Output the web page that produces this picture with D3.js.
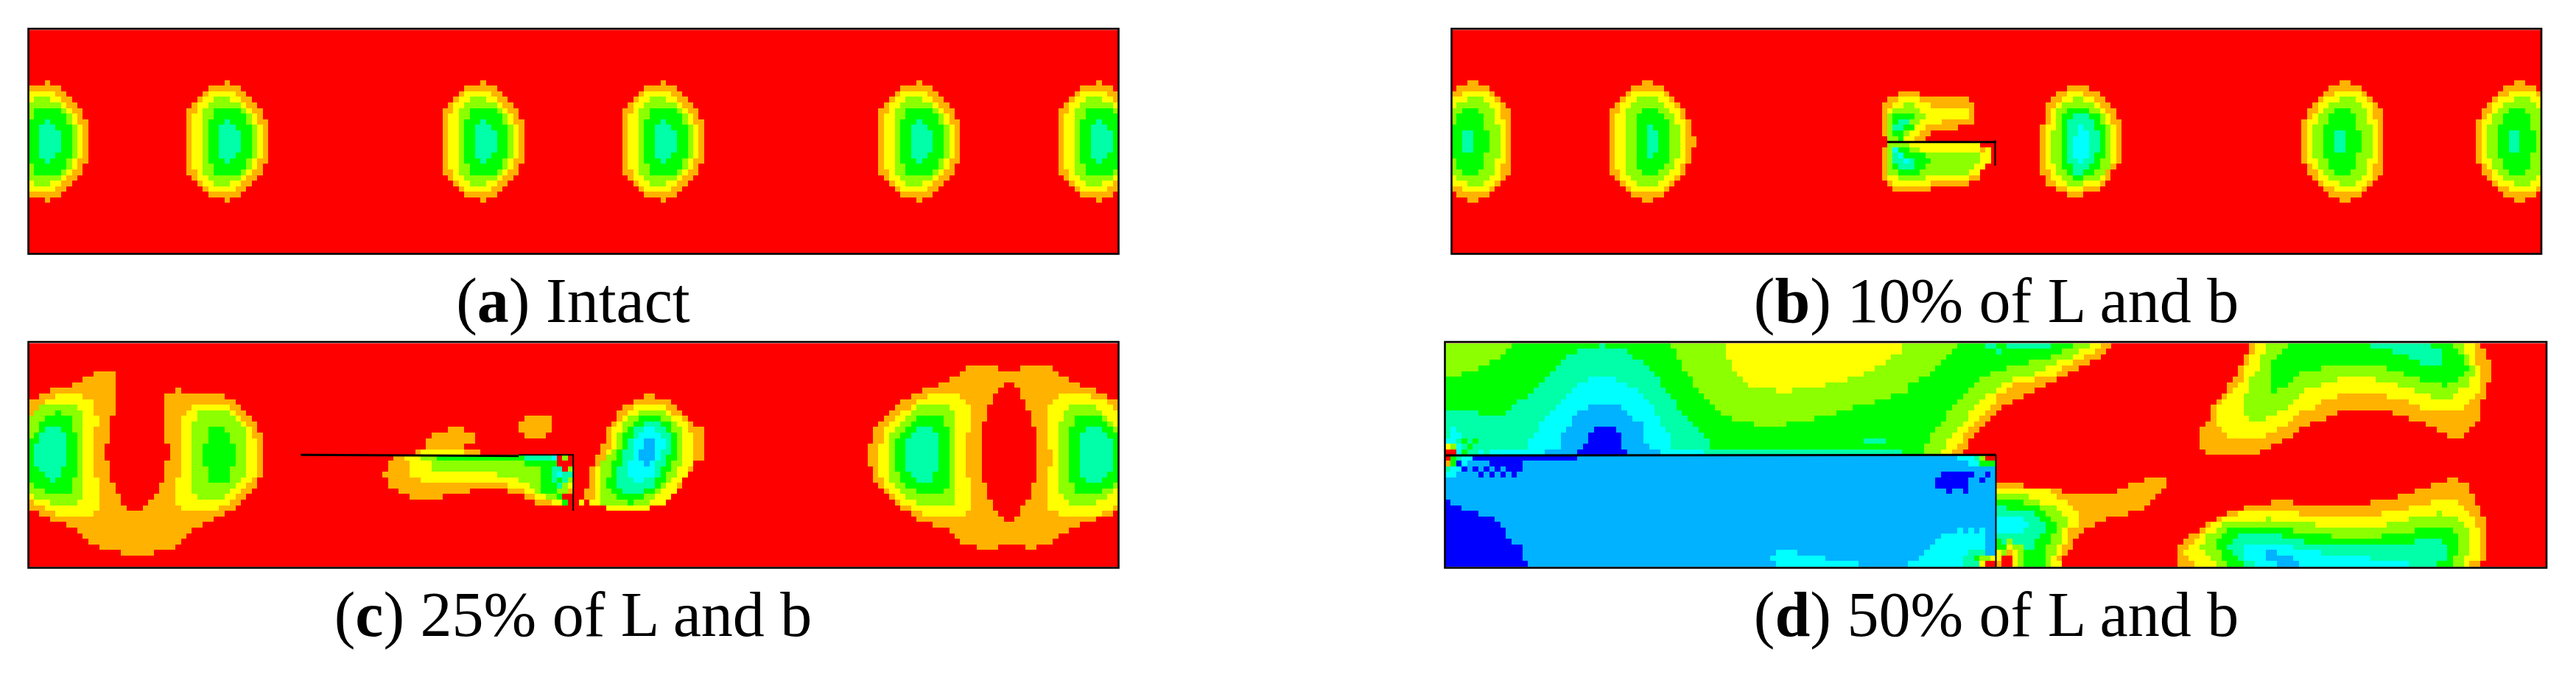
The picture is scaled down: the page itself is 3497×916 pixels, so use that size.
<!DOCTYPE html>
<html>
<head>
<meta charset="utf-8">
<script src="https://cdn.jsdelivr.net/npm/d3@7"></script>
<style>
  html, body { margin: 0; background: #fff; }
  svg { display: block; }
</style>
</head>
<body>
<svg id="chart" width="3497" height="916"></svg>
<script>
// contour levels, outer (red) to inner (blue)
const levelColors = ["#ff0000", "#ffb200", "#ffff00", "#8cff00", "#00ff00", "#00ffa8", "#00ffff", "#00b2ff", "#0000ff"];
const RED = 0, ORANGE = 1, YELLOW = 2, LIME = 3, GREEN = 4, TEAL = 5, CYAN = 6, SKY = 7, BLUE = 8;

const captionLetters = ["a", "b", "c", "d"];
const captionTexts = ["Intact", "10% of L and b", "25% of L and b", "50% of L and b"];

// a region is [level, first row, [from, to, from, to ...]], one from/to pair per row, in element columns
// the eyes are read from row 9 down to the mid height row, relative to the tip column
const eyeIntact = [
  [ORANGE, 9, [0,1,-3,3,-4,4,-5,5,-6,6,-7,7,-7,7,-7,8,-7,8,-7,8,-7,8]],
  [YELLOW, 11, [-3,2,-4,3,-5,4,-5,5,-6,6,-6,6,-6,7,-6,7,-6,7]],
  [LIME, 12, [-2,1,-3,3,-4,4,-4,5,-4,5,-4,6,-4,6,-4,6]],
  [GREEN, 14, [-2,3,-2,4,-3,4,-3,5,-3,5,-3,5]],
  [TEAL, 16, [0,1,-1,2,-1,3,-1,3]]
];
const eyeIntactTips = [3, 36, 83, 116, 163, 196];

const eyeCrackNear = [
  [ORANGE, 9, [0,2,-2,4,-3,5,-4,6,-5,7,-6,8,-6,8,-6,9,-6,9,-6,9,-6,10]],
  [YELLOW, 11, [-2,4,-3,5,-4,6,-4,7,-5,7,-5,8,-5,8,-5,8,-5,8]],
  [LIME, 12, [-1,3,-2,4,-3,5,-3,6,-3,6,-3,7,-3,7,-3,7]],
  [GREEN, 14, [0,3,-1,4,-1,5,-1,5,-1,5,-1,5]],
  [TEAL, 17, [1,2,1,3,1,3]]
];
const eyeCrackNearTips = [35];

const eyeCrackFar = [
  [ORANGE, 9, [0,2,-2,4,-3,5,-4,6,-5,7,-6,8,-6,8,-7,8,-7,8,-7,8,-7,8]],
  [YELLOW, 11, [-1,4,-3,5,-4,6,-4,6,-5,6,-6,7,-6,7,-6,7,-6,7]],
  [LIME, 12, [0,3,-2,4,-3,5,-4,5,-4,5,-5,6,-5,6,-5,6]],
  [GREEN, 14, [-1,2,-2,3,-2,3,-3,3,-3,4,-3,4]],
  [TEAL, 18, [-1,1,-1,1]]
];
const eyeCrackFarTips = [3, 163, 195];

const regionsB = [
  // eye right of the crack
  [ORANGE, 10, [113,117,111,119,110,120,109,121,109,122,109,122,109,123,108,123,108,123,108,123,108,123,108,123,108,123,108,123,108,122,108,121,109,121,109,120,111,119,113,116]],
  [YELLOW, 11, [113,116,112,118,111,119,110,120,110,121,110,121,109,122,109,122,109,122,109,122,109,122,109,122,109,122,109,121,110,120,110,120,111,119,113,116]],
  [LIME, 12, [114,116,112,118,111,119,111,120,111,120,111,121,110,121,110,121,110,121,110,121,110,121,110,121,111,121,111,120,112,119,113,116]],
  [GREEN, 14, [113,117,112,119,112,119,112,120,112,120,112,120,112,120,112,120,112,120,112,119,112,119,113,118,114,116]],
  [TEAL, 15, [114,117,113,118,113,118,113,119,113,119,113,119,113,119,113,118,113,118,114,117,114,116]],
  [CYAN, 17, [115,116,115,117,114,117,114,117,114,117,114,117,115,116]],
  // crack, upper lip
  [ORANGE, 11, [82,86,80,95,79,96,79,96,79,96,79,96,79,93,79,88,80,87]],
  [YELLOW, 12, [82,86,81,88,80,95,80,95,80,90,80,87,80,86,80,85]],
  [LIME, 13, [83,85,81,86,80,87,80,86,80,85,80,84,80,83]],
  [GREEN, 15, [81,85,81,84,81,85,81,83,82,83]],
  [TEAL, 16, [82,84,81,83]],
  // crack, lower lip
  [ORANGE, 21, [79,99,79,99,79,99,79,98,79,97,79,97,80,95,81,88]],
  [YELLOW, 20, [80,97,80,99,80,99,80,99,80,98,80,97,80,95,81,88]],
  [ORANGE, 21, [97,98]],
  [LIME, 20, [80,84,80,86,80,97,80,97,80,96,80,95,82,87]],
  [GREEN, 21, [81,84,81,87,81,88,81,87,82,86]],
  [TEAL, 21, [81,82,81,83,81,85,82,85]],
  [CYAN, 21, [81,82,82,83,83,84]]
];

const regionsC = [
  // U shape on the left
  [ORANGE, 5, [12,16,10,16,8,16,4,16,2,16,0,16,0,16,0,16,0,15,0,15,0,15,0,15,0,15,0,14,0,14,0,14,0,15,0,15,0,15,0,15,0,16,0,16,0,17,0,17,0,18]],
  [ORANGE, 8, [27,28,25,36,25,38,25,39,25,40,25,41,25,42,25,42,25,43,25,43,26,43,26,43,26,43,25,43,25,43,25,43,25,42,24,42,24,41,23,40,22,39,21,38]],
  [ORANGE, 30, [2,36,4,34,7,32,9,30,10,29,11,28,13,27,17,23]],
  [YELLOW, 9, [5,10,3,12,3,12,1,12,0,13,0,13,0,12,0,12,0,12,0,12,0,12,0,12,0,12,0,12,0,12,0,13,0,13,0,13,0,13,1,13,3,13,5,12]],
  [LIME, 11, [2,9,1,10,0,10,0,10,0,10,0,10,0,10,0,10,0,10,0,10,0,10,0,10,0,10,0,10,0,10,0,10,1,10,4,9]],
  [GREEN, 12, [5,6,3,8,2,8,2,8,1,9,0,9,0,9,0,9,0,9,0,9,0,9,0,9,0,8,1,8,3,8]],
  [TEAL, 15, [3,6,2,7,2,7,1,7,1,7,1,7,1,7,2,6,3,6,4,5]],
  [YELLOW, 11, [30,37,29,38,28,39,28,40,28,41,28,41,28,42,28,42,28,42,28,42,28,42,28,42,28,42,27,41,27,40,27,39,27,38,27,37,28,35]],
  [LIME, 12, [31,37,31,38,30,39,30,40,30,40,30,40,30,40,30,40,30,40,30,40,30,40,30,40,30,39,30,38,30,37,31,36]],
  [GREEN, 15, [33,36,33,37,33,37,32,38,32,38,32,38,32,38,33,37,33,37,33,37]],
  // wake of the crack
  [ORANGE, 15, [77,80,74,82,73,82,73,80,71,83]],
  [YELLOW, 19, [72,80]],
  [ORANGE, 13, [91,96,90,96,90,96,91,95]],
  [ORANGE, 20, [67,72,66,72,66,72,65,72,66,73,66,88,68,81,70,76]],
  [ORANGE, 26, [88,91,91,93,93,96]],
  [YELLOW, 20, [69,75,70,74,70,74,70,86,72,90,88,92,91,93,93,95,96,98]],
  [LIME, 20, [72,75,74,91,74,94,86,94,90,94,92,94,93,94,95,97]],
  [GREEN, 20, [75,91,91,97,94,98,94,100,94,98,94,97,94,97,97,98,98,99]],
  [TEAL, 20, [91,96]],
  [CYAN, 20, [96,97]],
  [LIME, 20, [98,99]],
  [TEAL, 22, [96,98,96,100,96,97,97,98]],
  [CYAN, 23, [97,98]],
  [TEAL, 24, [98,99]],
  [LIME, 22, [99,100]],
  [LIME, 24, [99,100]],
  [LIME, 25, [98,99]],
  [YELLOW, 25, [99,100]],
  [LIME, 26, [97,99]],
  [ORANGE, 26, [99,100]],
  [YELLOW, 28, [101,102]],
  // tilted eye right of the crack
  [ORANGE, 9, [113,115,111,118,109,119,108,120,108,121,107,122,106,124,106,124,106,124,105,124,105,124,104,124,104,122,103,122,103,121,103,120,103,120,102,119,102,118,105,116,108,114]],
  [YELLOW, 11, [111,117,110,118,109,120,108,121,107,121,107,122,107,122,107,122,106,122,106,122,105,122,104,121,104,121,104,120,104,119,104,119,104,118,103,117,106,114]],
  [LIME, 12, [112,117,110,118,109,119,109,120,108,120,108,120,108,120,107,120,106,120,105,120,105,119,105,119,105,118,105,117,105,116,105,115,105,114]],
  [GREEN, 13, [112,116,111,118,110,118,109,119,109,119,109,119,108,119,108,119,107,118,107,118,107,117,106,117,106,116,107,115,108,113,110,111]],
  [TEAL, 14, [113,116,111,117,111,118,110,118,110,118,109,118,109,117,109,117,108,116,108,116,108,115,108,115,109,113]],
  [CYAN, 15, [113,115,112,116,111,117,111,117,111,116,111,116,110,115,110,115,110,115,111,113]],
  [SKY, 17, [113,115,113,115,112,115,112,115,113,114]],
  // double eye on the right
  [ORANGE, 4, [172,178]],
  [ORANGE, 4, [182,188]],
  [ORANGE, 5, [171,189,169,191,167,193,164,196,162,198,160,200,159,200,158,200,157,200,156,200,155,200,155,200,155,200,154,200,154,200,154,200,154,200,155,200,155,200,155,200,156,200,157,200,158,200,159,200,160,200,162,199,163,196,166,193,169,191,170,189,171,188]],
  [ORANGE, 36, [174,178]],
  [ORANGE, 36, [183,185]],
  [RED, 7, [179,181,178,182,177,182,177,183,176,183,176,184,176,184,175,184,175,185,175,185,175,185,175,185,175,185,175,185,175,185,175,185,175,185,175,185,176,184,176,184,176,184,177,183,177,182,178,182,179,181]],
  [YELLOW, 9, [165,171,163,172,162,173,160,173,159,173,158,173,157,173,157,172,157,172,156,172,156,172,156,172,156,172,156,172,156,172,157,173,157,173,158,173,159,173,160,173,162,173,164,172]],
  [LIME, 11, [163,169,162,170,161,170,160,170,159,170,158,170,158,170,158,170,158,170,158,170,158,170,158,170,158,170,158,170,159,170,160,170,161,170,163,170]],
  [GREEN, 13, [163,168,162,168,161,169,160,169,159,169,159,169,159,169,159,169,159,169,159,169,160,169,160,169,161,169,163,168]],
  [TEAL, 15, [163,166,162,167,161,167,161,167,161,167,161,167,161,167,161,167,162,166,163,166]],
  [YELLOW, 9, [189,195,188,198,187,199,187,200,187,200,187,200,187,200,187,200,187,200,187,200,188,200,188,200,188,200,187,200,187,200,187,200,187,200,187,200,187,200,187,200,187,199,189,197]],
  [LIME, 11, [191,196,190,197,190,198,189,199,189,200,189,200,189,200,189,200,189,200,189,200,189,200,189,200,189,200,189,200,189,200,189,199,190,198,191,196]],
  [GREEN, 13, [192,197,192,198,191,199,191,200,191,200,191,200,191,200,191,200,191,200,191,200,191,200,191,200,192,199,192,197]],
  [TEAL, 15, [194,197,193,198,193,199,193,199,193,199,193,199,193,199,193,199,193,198,194,197]]
];

const regionsD = [
  // diagonal front, top left half
  [ORANGE, 0, [0,121,0,120,0,119,0,117,0,115,0,113,0,111,0,109,0,107,0,105,0,103,0,101,0,100,0,99,0,98,0,97,0,96,0,95,0,95,0,94]],
  [YELLOW, 0, [0,119,0,118,0,116,0,114,0,112,0,111,0,107,0,103,0,102,0,100,0,100,0,99,0,98,0,97,0,96,0,95,0,94,0,94,0,93,0,92]],
  [LIME, 0, [0,117,0,115,0,114,0,111,0,109,0,107,0,103,0,101,0,100,0,98,0,97,0,96,0,95,0,95,0,94,0,93,0,92,0,91,0,91,0,90]],
  [GREEN, 0, [0,114,0,112,0,110,0,106,0,102,0,99,0,97,0,96,0,95,0,94,0,93,0,92,0,91,0,91,0,90,0,89,0,88,0,88,0,87,0,87]],
  [LIME, 0, [0,12,0,11,0,10,0,8,0,6,0,3]],
  [LIME, 0, [41,93,42,92,42,91,43,90,43,89,44,88,45,86,45,84,46,84,47,81,48,78,49,74,50,71,52,67,56,62]],
  [YELLOW, 0, [51,83,51,83,51,81,52,80,52,78,53,76,54,73,55,69,60,63]],
  [TEAL, 0, [28,29,24,33,22,34,21,36,20,37,19,38,18,39,17,39,16,40,15,41,13,42,12,42,11,43,0,44,0,45,0,46,0,47,0,48,0,48,0,83]],
  [TEAL, 12, [0,6]],
  [TEAL, 17, [76,80]],
  [TEAL, 0, [98,100,100,101]],
  [TEAL, 0, [102,110]],
  [CYAN, 6, [26,31,24,33,23,35,22,36,21,37,20,38,19,38,18,39,17,39,17,40,16,41,15,41,15,41,8,47]],
  [SKY, 11, [26,32,24,33,23,34,23,36,22,36,21,36,21,36,21,37,18,39]],
  [BLUE, 15, [27,31,26,32,26,32,25,32,24,33]],
  // left end of the top half
  [CYAN, 15, [1,2,1,3,0,2,2,3,2,3]],
  [GREEN, 17, [3,4]],
  [GREEN, 17, [5,6]],
  [YELLOW, 18, [0,1]],
  [LIME, 18, [1,2]],
  [GREEN, 18, [4,5]],
  [RED, 19, [0,2]],
  [GREEN, 19, [3,4]],
  [CYAN, 19, [6,7]],
  // right part under the front
  [ORANGE, 25, [100,105,100,112,100,129,100,128,100,127,100,124,100,120,100,118,100,116,100,115,100,114,100,114,100,113,100,112,100,112]],
  [ORANGE, 24, [127,131,124,131,122,130]],
  [YELLOW, 26, [100,110,100,111,100,113,100,114,100,115,100,115,100,115,100,113,100,113,100,113,100,112,100,112,100,111,100,112]],
  [LIME, 27, [100,106,100,108,100,111,100,112,100,113,100,113,100,112,100,112,100,112,100,111,100,111,100,110,100,110]],
  [GREEN, 28, [100,105,100,108,100,109,100,110,100,111,100,111,100,110,100,110,100,109,100,109,100,109,100,109]],
  [TEAL, 29, [100,102,100,107,100,108,100,109,100,109,100,108,100,107,100,107]],
  [CYAN, 31, [100,105,100,106,100,105]],
  [GREEN, 35, [100,101]],
  [LIME, 35, [102,103]],
  [GREEN, 36, [100,102]],
  [YELLOW, 36, [102,103]],
  [LIME, 36, [103,105,104,105,104,105,104,105]],
  [YELLOW, 37, [100,101,100,101,103,104]],
  [LIME, 37, [101,102]],
  [ORANGE, 37, [102,103]],
  [RED, 38, [101,103,101,103]],
  [YELLOW, 37, [103,104,103,104,103,104]],
  [ORANGE, 39, [100,101]],
  // lower right blob
  [ORANGE, 24, [182,184,179,186,176,186,173,187]],
  [ORANGE, 28, [150,154]],
  [ORANGE, 28, [168,187,145,188,142,188,140,189,138,189,137,189,135,189,134,189,133,189,133,189,133,189,133,188]],
  [YELLOW, 28, [179,184,175,185]],
  [YELLOW, 30, [144,155]],
  [YELLOW, 30, [170,186,141,187,139,187,138,188,137,188,136,188,135,188,134,188,135,188,136,186]],
  [LIME, 30, [180,181]],
  [LIME, 31, [149,150]],
  [LIME, 31, [175,184,171,185]],
  [LIME, 32, [141,158]],
  [LIME, 33, [140,186,138,186,138,186,137,186,138,186,139,185,140,185]],
  [GREEN, 33, [142,154]],
  [GREEN, 33, [176,183]],
  [GREEN, 34, [141,161]],
  [GREEN, 34, [170,184,140,184,140,184,141,184,141,183,142,183]],
  [TEAL, 34, [144,152,143,156]],
  [TEAL, 35, [176,181,142,182,143,182,144,182,145,180]],
  [CYAN, 36, [145,154,145,159,145,168,147,175]],
  [SKY, 37, [149,151,149,154,151,155]],
  // upper right blob
  [ORANGE, 0, [146,188,146,189,145,189,145,190,144,190,144,190,143,190,142,189,142,189,141,189,140,188,139,188,139,162,139,160,138,157,137,155,137,154,137,152,137,150,138,148]],
  [ORANGE, 12, [172,188,175,188,178,187,180,186,182,185]],
  [YELLOW, 0, [147,187,147,187,146,187,146,187,145,188,145,188,145,188,144,188,143,188,142,162,141,159,140,158,140,155,140,154,140,153,141,151,142,149]],
  [YELLOW, 9, [171,187,175,186,177,185]],
  [LIME, 0, [149,185,149,185,148,186,148,186,148,187,147,187,146,162,146,159,146,156,145,155,145,154,145,153,145,151,146,149]],
  [LIME, 6, [169,186,173,186,176,184,179,183]],
  [GREEN, 0, [153,183,152,184,151,185,150,185,150,159,150,155,150,154,150,153,150,151]],
  [GREEN, 4, [171,186,174,185,177,184,181,182]],
  [TEAL, 0, [168,179,172,181,175,181,177,181]],
  // lower left block under the crack
  [SKY, 20, [0,100,0,100,0,100,0,100,0,100,0,100,0,100,0,100,0,100,0,100,0,100,0,100,0,100,0,100,0,100,0,100,0,100,0,100,0,100,0,100]],
  [BLUE, 20, [5,24,8,14,11,14]],
  [BLUE, 21, [2,3,3,4]],
  [BLUE, 22, [5,6,6,7]],
  [BLUE, 22, [7,8,8,9]],
  [BLUE, 22, [9,10,10,11]],
  [BLUE, 23, [12,13]],
  [RED, 20, [0,1]],
  [GREEN, 20, [1,2,1,2]],
  [TEAL, 20, [2,3]],
  [CYAN, 20, [3,5,3,4,1,3,0,2]],
  [ORANGE, 21, [0,1]],
  [TEAL, 22, [0,1]],
  [BLUE, 23, [90,96,89,95,89,95]],
  [BLUE, 26, [91,92]],
  [BLUE, 26, [94,95]],
  [BLUE, 23, [98,99]],
  [BLUE, 24, [97,98]],
  [CYAN, 20, [93,96,95,97]],
  [TEAL, 20, [96,97]],
  [LIME, 20, [97,98]],
  [RED, 20, [98,100]],
  [GREEN, 21, [97,100]],
  [BLUE, 28, [0,1,0,3,0,6,0,9,0,10,0,11,0,11,0,12,0,14,0,14,0,14,0,15]],
  [CYAN, 37, [60,64,59,69,60,75]],
  [CYAN, 33, [93,94]],
  [CYAN, 33, [95,96]],
  [CYAN, 33, [97,98]],
  [CYAN, 34, [90,98,89,98,88,98,87,95,86,94,84,94]],
  [TEAL, 37, [95,98,94,96,94,97]],
  [SKY, 37, [98,99]],
  [GREEN, 38, [96,97]],
  [LIME, 38, [97,99]],
  [YELLOW, 38, [99,100]],
  [YELLOW, 39, [97,98]],
  [RED, 39, [98,100]]
];

// crack outlines as [column, row] points
const crackB = [[[80, 20.1], [100, 20.1]], [[99.8, 19.8], [99.8, 24.3]]];
const crackC = [[[50, 20], [90, 20.2]], [[90, 20], [100, 20]], [[100, 19.9], [100, 30]]];
const crackD = [[[0, 20.1], [100, 20]], [[100, 20], [100, 40]]];

// grid of the model
const nCols = 200, nRows = 40;

function placeEye(eye, tips) {
  // each eye is symmetric about the mid height, rows 19 and 20
  return tips.flatMap(tip => eye.map(([level, first, pairs]) => {
    const down = [];
    for (let i = 0; i < pairs.length; i += 2) down.push([pairs[i] + tip, pairs[i + 1] + tip]);
    return { level, first, spans: down.concat(down.slice().reverse()) };
  }));
}

function toRegion([level, first, pairs]) {
  const spans = [];
  for (let i = 0; i < pairs.length; i += 2) spans.push([pairs[i], pairs[i + 1]]);
  return { level, first, spans };
}

function expandRows(region) {
  return region.spans.map((s, i) => ({
    level: region.level,
    row: region.first + i,
    from: Math.max(0, s[0]),
    to: Math.min(nCols, s[1])
  })).filter(d => d.to > d.from);
}

const eyeOrder = [ORANGE, YELLOW, LIME, GREEN, TEAL];
function eyesInOrder(list) {
  return eyeOrder.flatMap(level => list.filter(r => r.level === level));
}

const panels = [
  {
    x: [38.4, 1518], y: [40.5, 343.7], box: [38.5, 39, 1480, 305.5], regions: eyesInOrder(placeEye(eyeIntact, eyeIntactTips)), cracks: []
  },
  {
    x: [1970, 3450], y: [40.5, 343.7], box: [1970.5, 39, 1479.5, 305.5],
    regions: eyesInOrder(placeEye(eyeCrackFar, eyeCrackFarTips).concat(placeEye(eyeCrackNear, eyeCrackNearTips))).concat(regionsB.map(toRegion)),
    cracks: crackB
  },
  {
    x: [38.4, 1518], y: [465.7, 769], box: [38.5, 464, 1480, 306.5], regions: regionsC.map(toRegion), cracks: crackC
  },
  {
    x: [1962, 3457], y: [465.7, 769], box: [1961.5, 464, 1495.5, 306.5], regions: regionsD.map(toRegion), cracks: crackD
  }
];

const captionCentres = [778, 2710, 778, 2710];
const captionBaselines = [437, 437, 863, 863];

const svg = d3.select("#chart");

panels.forEach((panel, p) => {
  const x = d3.scaleLinear().domain([0, nCols]).range(panel.x);
  const y = d3.scaleLinear().domain([0, nRows]).range(panel.y);
  const cells = panel.regions.flatMap(expandRows);
  const g = svg.append("g").attr("class", "panel");

  g.append("rect")
    .attr("x", x(0)).attr("y", y(0))
    .attr("width", x(nCols) - x(0)).attr("height", y(nRows) - y(0))
    .attr("fill", levelColors[RED]);

  g.selectAll("rect.cell")
    .data(cells)
    .join("rect")
    .attr("class", "cell")
    .attr("x", d => x(d.from))
    .attr("y", d => y(d.row))
    .attr("width", d => x(d.to) - x(d.from))
    .attr("height", d => y(d.row + 1) - y(d.row))
    .attr("fill", d => levelColors[d.level])
    .attr("shape-rendering", "crispEdges");

  const line = d3.line().x(d => x(d[0])).y(d => y(d[1]));
  g.selectAll("path.crack")
    .data(panel.cracks)
    .join("path")
    .attr("class", "crack")
    .attr("d", line)
    .attr("fill", "none")
    .attr("stroke", "#000")
    .attr("stroke-width", (d, i) => (i === 0 ? 3 : 2));

  g.append("rect")
    .attr("x", panel.box[0]).attr("y", panel.box[1])
    .attr("width", panel.box[2]).attr("height", panel.box[3])
    .attr("fill", "none")
    .attr("stroke", "#000")
    .attr("stroke-width", 2.6);

  const label = svg.append("text")
    .attr("x", captionCentres[p])
    .attr("y", captionBaselines[p])
    .attr("text-anchor", "middle")
    .attr("font-family", "'Liberation Serif', serif")
    .attr("font-size", 86)
    .attr("fill", "#000");
  label.append("tspan").text("(");
  label.append("tspan").attr("font-weight", "bold").text(captionLetters[p]);
  label.append("tspan").text(") " + captionTexts[p]);
});
</script>
</body>
</html>
